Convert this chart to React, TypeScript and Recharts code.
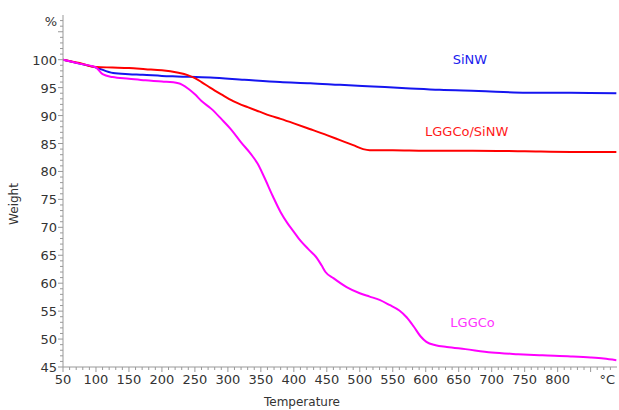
import { LineChart, Line, XAxis, YAxis, ReferenceDot } from "recharts";

// LGGCo (magenta)
const lggcoT = [50, 75, 100, 110, 125, 150, 175, 200, 225, 240, 250, 260, 275, 290, 305, 320, 335, 345, 355, 368, 380, 390, 400, 410, 422, 435, 442, 448, 460, 480, 500, 515, 530, 545, 560, 571, 582, 592, 601, 615, 632, 660, 700, 740, 777, 820, 850, 870, 889];
const lggcoW = [100, 99.3, 98.6, 97.4, 96.9, 96.6, 96.3, 96.1, 95.8, 94.8, 93.8, 92.6, 91.2, 89.4, 87.5, 85.2, 83.1, 81.4, 79.0, 75.6, 72.7, 70.8, 69.2, 67.6, 66.1, 64.5, 63.2, 62.0, 60.9, 59.3, 58.2, 57.6, 57.0, 56.1, 55.1, 53.9, 52.2, 50.5, 49.5, 48.9, 48.6, 48.2, 47.6, 47.3, 47.1, 46.9, 46.7, 46.5, 46.2];

// LGGCo/SiNW (red)
const compT = [50, 75, 100, 125, 150, 175, 200, 223, 240, 250, 260, 273, 290, 308, 330, 348, 364, 380, 400, 424, 450, 470, 490, 505, 515, 550, 600, 671, 750, 820, 889];
const compW = [100, 99.4, 98.7, 98.6, 98.5, 98.3, 98.1, 97.7, 97.2, 96.7, 96.0, 95.0, 93.8, 92.6, 91.5, 90.7, 90.0, 89.4, 88.6, 87.6, 86.5, 85.6, 84.7, 84.0, 83.8, 83.8, 83.7, 83.7, 83.6, 83.5, 83.5];

// SiNW (blue)
const sinwT = [50, 75, 100, 126, 150, 171, 200, 223, 273, 325, 379, 425, 470, 520, 570, 621, 680, 753, 820, 889];
const sinwW = [100, 99.3, 98.6, 97.6, 97.4, 97.3, 97.1, 97.0, 96.8, 96.4, 96.0, 95.8, 95.5, 95.2, 94.9, 94.6, 94.4, 94.1, 94.1, 94.0];

const xTicks: number[] = [];
for (let t = 50; t <= 880; t += 10) xTicks.push(t);
const yTicks: number[] = [];
for (let w = 45; w <= 107; w += 1) yTicks.push(w);

const toRows = (ts: number[], ws: number[]) => ts.map((t, i) => ({ t, w: ws[i] }));

const AXIS = "#999";
const TXT = "#333";

const XTick = (props: any) => {
  const { x, y, payload } = props;
  const v = payload.value;
  const major = v % 50 === 0;
  let label: string | null = null;
  if (v === 880) label = "°C";
  else if (major && v <= 800) label = String(v);
  return (
    <g>
      <line x1={x} x2={x} y1={y} y2={y + (major ? 5 : 3)} stroke={AXIS} />
      {label && (
        <text x={v === 880 ? x - 3 : x} y={y + 17} textAnchor="middle" fill={TXT} fontSize={13}>
          {label}
        </text>
      )}
    </g>
  );
};

const YTick = (props: any) => {
  const { x, y, payload } = props;
  const v = payload.value;
  const major = v % 5 === 0;
  let label: string | null = null;
  if (v === 107) label = "%";
  else if (major && v <= 100) label = String(v);
  return (
    <g>
      <line x1={x} x2={x - (major ? 5 : 3)} y1={y} y2={y} stroke={AXIS} />
      {label && (
        <text x={x - 6} y={y + 5} textAnchor="end" fill={TXT} fontSize={13}>
          {label}
        </text>
      )}
    </g>
  );
};

export default function App() {
  return (
    <div style={{ position: "absolute", left: 0, top: 0, background: "#fff" }}>
      <LineChart
        width={619}
        height={410}
        margin={{ top: 15, right: 2, left: 0, bottom: 0 }}
        style={{ fontFamily: "DejaVu Sans" }}
      >
        <XAxis
          dataKey="t"
          type="number"
          domain={[50, 890]}
          ticks={xTicks}
          interval={0}
          tickSize={0}
          tickMargin={0}
          tickLine={false}
          tick={<XTick />}
          axisLine={{ stroke: AXIS }}
          height={43}
          allowDataOverflow
          label={{
            content: () => (
              <text x={302} y={406} textAnchor="middle" fill={TXT} fontSize={12}>
                Temperature
              </text>
            ),
          }}
        />
        <YAxis
          dataKey="w"
          type="number"
          domain={[45, 108]}
          ticks={yTicks}
          interval={0}
          tickSize={0}
          tickMargin={0}
          tickLine={false}
          tick={<YTick />}
          axisLine={{ stroke: AXIS }}
          width={63}
          allowDataOverflow
          label={{
            content: () => (
              <text x={18} y={204} transform="rotate(-90 18 204)" textAnchor="middle" fill={TXT} fontSize={12}>
                Weight
              </text>
            ),
          }}
        />
        <Line data={toRows(sinwT, sinwW)} dataKey="w" type="monotone" stroke="#1515f0" strokeWidth={2} dot={false} isAnimationActive={false} />
        <Line data={toRows(compT, compW)} dataKey="w" type="monotone" stroke="#ff0000" strokeWidth={2} dot={false} isAnimationActive={false} />
        <Line data={toRows(lggcoT, lggcoW)} dataKey="w" type="monotone" stroke="#ff00ff" strokeWidth={2} dot={false} isAnimationActive={false} />
        <ReferenceDot x={667} y={100} r={0} fill="none" stroke="none" label={{ value: "SiNW", fill: "#2020ee", fontSize: 13, position: "center" }} />
        <ReferenceDot x={662} y={87.2} r={0} fill="none" stroke="none" label={{ value: "LGGCo/SiNW", fill: "#ff1a1a", fontSize: 13, position: "center" }} />
        <ReferenceDot x={671} y={53} r={0} fill="none" stroke="none" label={{ value: "LGGCo", fill: "#ff33ff", fontSize: 13, position: "center" }} />
      </LineChart>
    </div>
  );
}
